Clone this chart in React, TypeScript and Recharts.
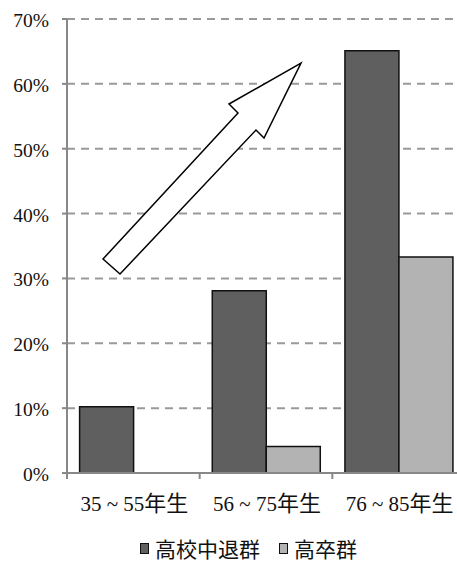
import { BarChart, Bar, XAxis, YAxis, CartesianGrid } from 'recharts';

// birth cohorts on the x axis
const cohorts = ['35 ~ 55年生', '56 ~ 75年生', '76 ~ 85年生'];
// share of each group, as fractions
const dropoutRates = [0.102, 0.281, 0.651];
const graduateRates = [0, 0.041, 0.333];
const seriesNames = ['高校中退群', '高卒群'];
const seriesColors = ['#5f5f5f', '#b3b3b3'];
const percentTicks = [0, 0.1, 0.2, 0.3, 0.4, 0.5, 0.6, 0.7];

// hollow "rising" arrow drawn over the plot
const arrowPoints = [
  [103, 259], [238, 113], [229, 104], [301, 63],
  [264, 138], [256, 130], [120, 274],
];

const data = cohorts.map((c, i) => ({
  cohort: c,
  dropout: dropoutRates[i],
  graduate: graduateRates[i],
}));

const serif = "'Liberation Serif', 'Noto Sans CJK JP', serif";
const sans = "'Noto Sans CJK JP', sans-serif";

function PercentTick({ x, y, payload }: any) {
  return (
    <text x={x} y={y + 8} textAnchor="end" fontSize={19.5} fontFamily={serif} fill="#111">
      {`${Math.round(payload.value * 100)}%`}
    </text>
  );
}

// digits in serif, the kanji suffix a touch larger in gothic
function CohortTick({ x, y, payload, index }: any) {
  const half = payload.offset ?? 0;
  const left = x - half;
  const right = x + half;
  const label: string = String(payload.value);
  const m = label.match(/^(.*?)([^\x00-\x7f]+)$/);
  const head = m ? m[1] : label;
  const tail = m ? m[2] : '';
  return (
    <g>
      <line x1={left} x2={left} y1={y} y2={y + 6} stroke="#888" strokeWidth={2} />
      {index === cohorts.length - 1 && (
        <line x1={right} x2={right} y1={y} y2={y + 6} stroke="#888" strokeWidth={2} />
      )}
      <text x={x + 1} y={y + 38} textAnchor="middle" fontSize={21} fontFamily={serif} fill="#111">
        {head}
        <tspan fontFamily={sans} fontSize={22}>{tail}</tspan>
      </text>
    </g>
  );
}

export default function App() {
  return (
    <div
      style={{
        position: 'fixed',
        left: 0,
        top: 0,
        width: 457,
        height: 562,
        overflow: 'hidden',
        background: '#fff',
      }}
    >
      <BarChart
        width={470}
        height={562}
        data={data}
        margin={{ top: 19, right: 5, bottom: 59, left: 0 }}
        barCategoryGap="9.5%"
        barGap={0}
      >
        <CartesianGrid vertical={false} stroke="#999" strokeWidth={2} strokeDasharray="8 6" />
        <XAxis
          dataKey="cohort"
          height={30}
          stroke="#888"
          strokeWidth={2}
          tickLine={false}
          tickSize={0}
          tickMargin={0}
          tick={<CohortTick />}
          interval={0}
        />
        <YAxis
          width={67}
          domain={[0, 0.7]}
          ticks={percentTicks}
          stroke="#888"
          strokeWidth={2}
          tickSize={5}
          tickMargin={13}
          tick={<PercentTick />}
          interval={0}
        />
        <Bar
          dataKey="dropout"
          name={seriesNames[0]}
          fill={seriesColors[0]}
          stroke="#111"
          strokeWidth={1.5}
          isAnimationActive={false}
        />
        <Bar
          dataKey="graduate"
          name={seriesNames[1]}
          fill={seriesColors[1]}
          stroke="#111"
          strokeWidth={1.5}
          isAnimationActive={false}
        />
      </BarChart>

      <svg
        width={457}
        height={562}
        style={{ position: 'absolute', left: 0, top: 0, pointerEvents: 'none' }}
      >
        <polygon
          points={arrowPoints.map((p) => p.join(',')).join(' ')}
          fill="#fff"
          stroke="#000"
          strokeWidth={1.5}
          strokeLinejoin="miter"
        />
      </svg>

      <div
        style={{
          position: 'absolute',
          left: 140,
          top: 537,
          display: 'flex',
          alignItems: 'center',
          fontFamily: sans,
          fontSize: 21,
          color: '#111',
          lineHeight: '22px',
        }}
      >
        {seriesNames.map((name, i) => (
          <span key={name} style={{ display: 'flex', alignItems: 'center', marginRight: 19 }}>
            <span
              style={{
                display: 'inline-block',
                width: 7,
                height: 9,
                background: seriesColors[i],
                border: '1px solid #111',
                marginRight: 6,
              }}
            />
            {name}
          </span>
        ))}
      </div>
    </div>
  );
}
